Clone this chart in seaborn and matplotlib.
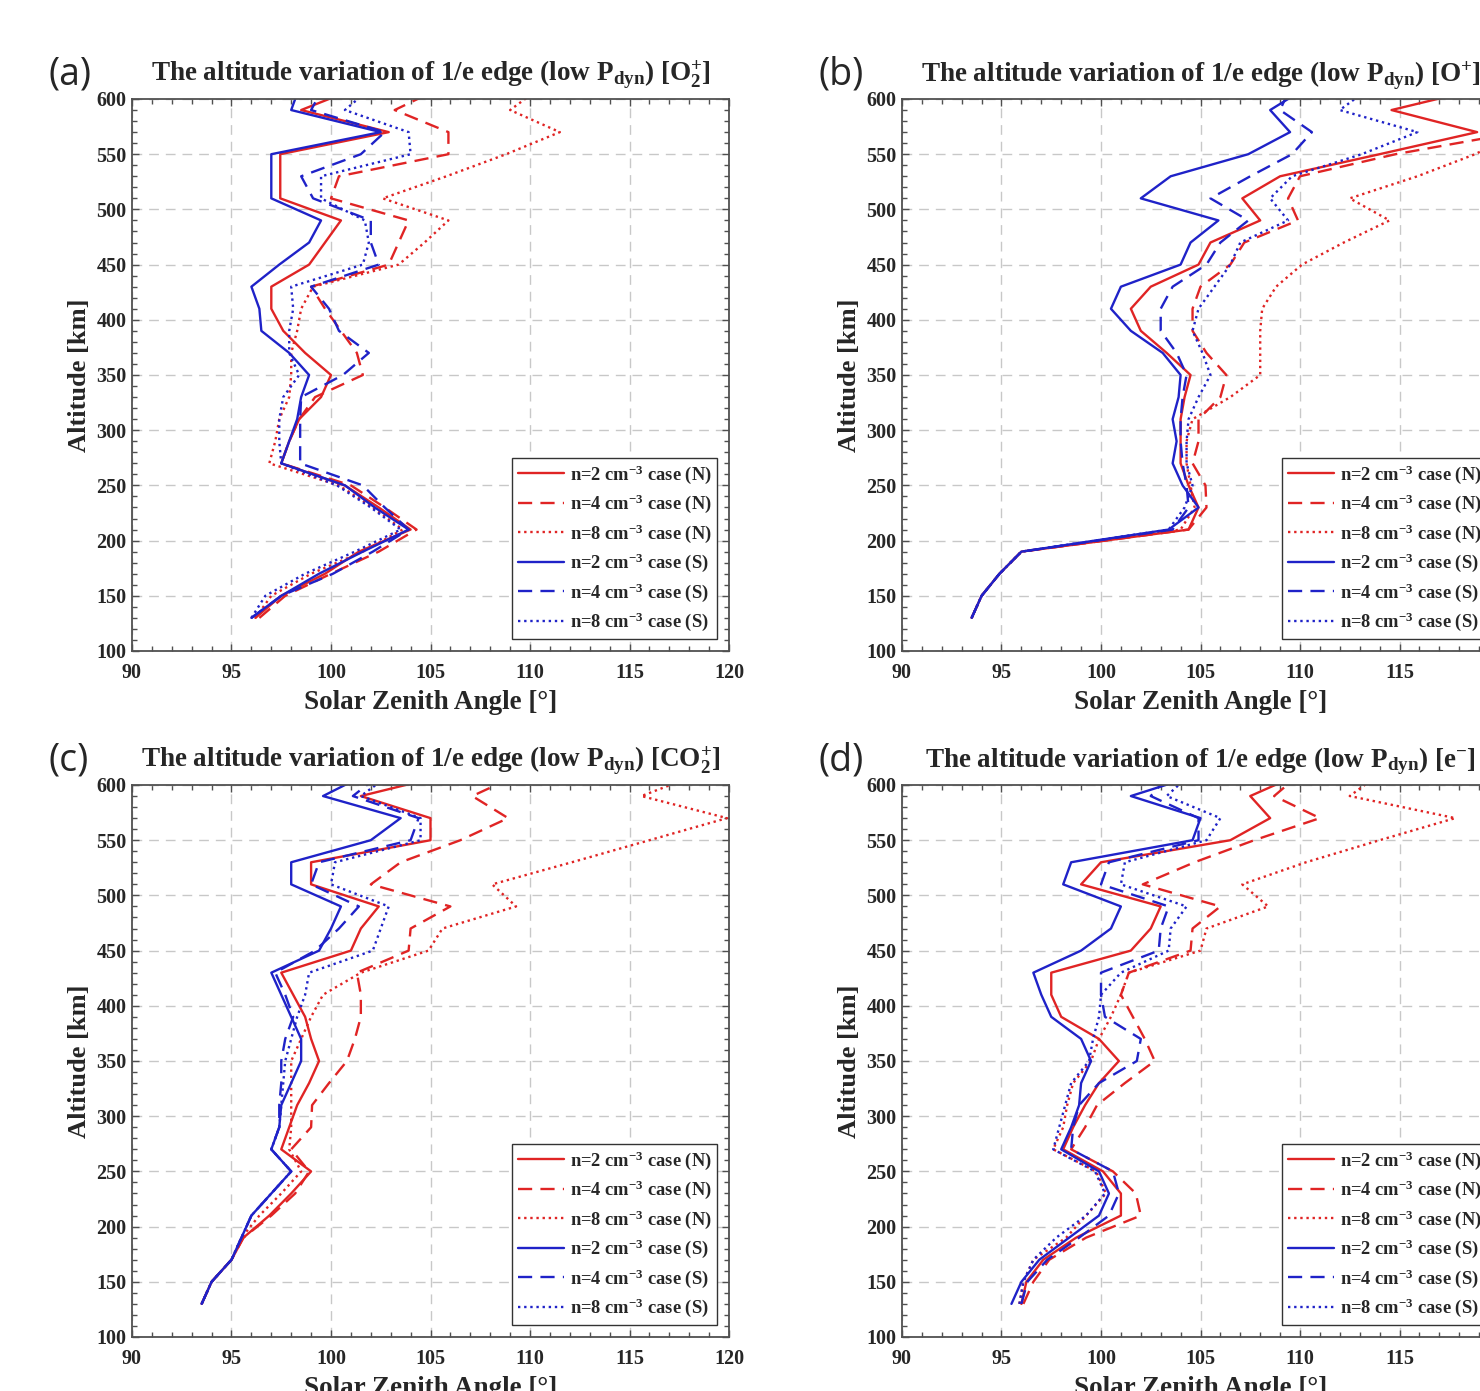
import matplotlib
matplotlib.use("Agg")
import matplotlib.pyplot as plt
from matplotlib.ticker import MultipleLocator
import seaborn as sns

# ---------------- data ----------------
ALT = [130, 150, 170, 190, 210, 230, 250, 270, 290, 310, 330, 350, 370,
       390, 410, 430, 450, 470, 490, 510, 530, 550, 570, 590, 610]

# panel (a) O2+
a_N2 = [96.2, 97.5, 99.7, 101.4, 104.0, 102.4, 100.7, 97.5, 97.9, 98.4, 99.5, 100.0, 98.7,
        97.6, 97.0, 97.0, 98.9, 99.7, 100.5, 97.45, 97.45, 97.45, 102.9, 98.5, 101.3]
a_N4 = [96.4, 97.7, 100.0, 102.4, 104.3, 102.7, 101.0, 97.5, 97.9, 98.4, 99.2, 101.6, 101.3,
        100.5, 99.7, 99.0, 102.9, 103.4, 103.9, 100.0, 100.4, 105.9, 105.9, 103.2, 105.5]
a_N8 = [96.2, 97.0, 99.0, 101.6, 103.6, 102.1, 100.4, 96.9, 97.2, 97.4, 97.9, 98.0, 98.0,
        98.3, 98.5, 99.1, 103.4, 104.7, 105.9, 102.6, 105.8, 108.8, 111.5, 109.0, 110.5]
a_S2 = [96.0, 97.5, 99.4, 101.6, 103.9, 102.2, 100.7, 97.5, 97.9, 98.3, 98.5, 98.9, 97.9,
        96.5, 96.4, 96.0, 97.4, 98.9, 99.5, 97.0, 97.0, 97.0, 102.5, 98.0, 98.4]
a_S4 = [96.0, 97.5, 100.1, 102.1, 103.9, 102.7, 101.6, 98.45, 98.45, 98.45, 98.5, 100.6, 101.9,
        100.4, 99.9, 99.0, 102.4, 102.0, 102.0, 99.1, 98.5, 101.5, 102.7, 99.0, 99.6]
a_S8 = [96.0, 96.7, 98.7, 101.2, 103.5, 102.0, 100.3, 97.5, 97.4, 97.4, 97.6, 98.4, 97.9,
        97.9, 98.1, 98.0, 101.6, 101.9, 101.7, 99.5, 99.5, 104.0, 103.9, 100.7, 102.0]

# panel (b) O+
b_N2 = [93.5, 94.0, 94.9, 96.0, 104.4, 104.9, 104.4, 104.0, 104.0, 104.0, 104.2, 104.5, 103.3,
        102.0, 101.5, 102.5, 104.9, 105.5, 108.0, 107.1, 109.0, 114.0, 118.9, 114.6, 119.2]
b_N4 = [93.5, 94.0, 94.9, 96.0, 104.4, 105.3, 105.25, 104.6, 104.9, 104.9, 106.0, 106.3, 105.3,
        104.6, 104.6, 105.0, 106.5, 107.2, 109.9, 109.4, 110.0, 114.8, 121.0, 122.0, 122.0]
b_N8 = [93.5, 94.0, 94.9, 96.0, 104.0, 104.7, 104.5, 104.3, 104.3, 104.6, 106.5, 108.0, 108.0,
        108.0, 108.1, 108.8, 110.1, 112.2, 114.5, 112.5, 115.9, 118.8, 121.0, 122.0, 122.0]
b_S2 = [93.5, 94.0, 94.9, 96.0, 103.4, 104.9, 104.1, 103.6, 103.8, 103.6, 103.9, 104.0, 103.1,
        101.5, 100.5, 101.0, 104.0, 104.5, 105.9, 102.0, 103.5, 107.4, 109.5, 108.5, 110.3]
b_S4 = [93.5, 94.0, 94.9, 96.0, 103.6, 104.4, 104.3, 104.1, 104.0, 104.0, 104.1, 104.3, 103.8,
        103.0, 103.0, 103.6, 105.3, 106.0, 107.4, 105.5, 107.5, 109.6, 110.6, 109.0, 109.5]
b_S8 = [93.5, 94.0, 94.9, 96.0, 103.4, 104.2, 104.6, 104.3, 104.3, 104.4, 104.9, 105.5, 105.1,
        104.6, 104.9, 105.7, 106.5, 107.0, 109.4, 108.5, 109.6, 113.1, 115.9, 112.0, 113.5]

# panel (c) CO2+
c_N2 = [93.5, 94.0, 95.0, 95.6, 96.9, 98.0, 99.0, 97.5, 97.9, 98.3, 98.9, 99.4, 99.0,
        98.7, 98.1, 97.5, 101.0, 101.5, 102.4, 99.0, 99.0, 105.0, 105.0, 101.5, 106.0]
c_N4 = [93.5, 94.0, 95.0, 95.6, 97.0, 98.2, 98.9, 98.0, 99.0, 99.05, 99.9, 100.8, 101.2,
        101.5, 101.5, 101.3, 103.9, 104.0, 106.0, 102.0, 103.5, 106.5, 108.9, 107.1, 109.5]
c_N8 = [93.5, 94.0, 95.0, 95.5, 96.4, 97.5, 98.5, 97.9, 98.0, 98.0, 98.0, 98.0, 98.5,
        99.0, 99.6, 101.5, 104.9, 105.6, 109.3, 108.1, 112.1, 116.0, 119.9, 115.6, 118.5]
c_S2 = [93.5, 94.0, 95.0, 95.5, 96.0, 97.0, 98.0, 97.0, 97.4, 97.5, 98.0, 98.5, 98.5,
        98.0, 97.5, 97.0, 99.4, 100.0, 100.5, 98.0, 98.0, 102.0, 103.5, 99.6, 101.8]
c_S4 = [93.5, 94.0, 95.0, 95.5, 96.0, 97.0, 98.0, 97.0, 97.4, 97.4, 97.5, 97.5, 97.7,
        98.1, 97.7, 97.2, 99.2, 100.4, 101.4, 99.0, 99.4, 104.0, 104.4, 101.1, 102.5]
c_S8 = [93.5, 94.0, 95.0, 95.5, 96.0, 97.0, 98.0, 97.0, 97.4, 97.5, 97.6, 97.7, 98.0,
        98.3, 98.7, 98.9, 102.1, 102.5, 102.9, 100.0, 100.2, 104.5, 104.5, 101.5, 103.0]

# panel (d) e-
d_N2 = [96.0, 96.25, 97.1, 98.75, 101.0, 101.0, 100.1, 98.1, 98.6, 99.2, 99.9, 100.9, 99.9,
        98.0, 97.5, 97.5, 101.5, 102.5, 103.0, 99.0, 100.0, 106.5, 108.5, 107.5, 110.0]
d_N4 = [96.1, 96.6, 97.4, 99.25, 102.0, 101.75, 100.6, 98.5, 99.2, 99.8, 101.2, 102.7, 102.2,
        101.6, 101.0, 101.4, 104.5, 104.6, 106.0, 102.1, 104.7, 107.7, 111.0, 108.7, 110.0]
d_N8 = [95.9, 96.1, 96.6, 98.25, 99.25, 100.25, 99.75, 97.6, 98.1, 98.3, 98.6, 99.5, 99.9,
        100.5, 101.0, 101.4, 105.0, 105.3, 108.4, 107.1, 110.3, 114.0, 117.8, 112.5, 114.0]
d_S2 = [95.5, 96.0, 96.9, 98.4, 99.9, 100.4, 99.9, 98.0, 98.5, 98.9, 99.0, 99.5, 99.0,
        97.5, 97.0, 96.6, 99.0, 100.5, 101.0, 98.1, 98.5, 104.6, 105.0, 101.5, 105.0]
d_S4 = [96.0, 96.3, 97.3, 98.9, 100.4, 100.9, 100.6, 98.5, 98.6, 98.9, 99.9, 101.8, 102.0,
        100.2, 100.0, 100.0, 102.9, 103.0, 103.4, 100.0, 100.4, 104.9, 104.9, 102.5, 103.5]
d_S8 = [95.9, 96.1, 96.6, 97.75, 99.25, 100.2, 99.7, 97.6, 97.9, 98.2, 98.5, 99.4, 99.6,
        99.9, 100.0, 101.0, 103.4, 103.5, 104.3, 101.0, 101.2, 105.3, 106.0, 103.3, 104.5]

SPECIES = [r"[O$_\mathbf{2}^\mathbf{+}$]", r"[O$^\mathbf{+}$]",
           r"[CO$_\mathbf{2}^\mathbf{+}$]", r"[e$^\mathbf{-}$]"]
PANEL_LABELS = ["(a)", "(b)", "(c)", "(d)"]
SERIES_LABELS = [r"n=2 cm$^{\mathbf{-3}}$ case (N)", r"n=4 cm$^{\mathbf{-3}}$ case (N)",
                 r"n=8 cm$^{\mathbf{-3}}$ case (N)", r"n=2 cm$^{\mathbf{-3}}$ case (S)",
                 r"n=4 cm$^{\mathbf{-3}}$ case (S)", r"n=8 cm$^{\mathbf{-3}}$ case (S)"]
PANELS = [[a_N2, a_N4, a_N8, a_S2, a_S4, a_S8],
          [b_N2, b_N4, b_N8, b_S2, b_S4, b_S8],
          [c_N2, c_N4, c_N8, c_S2, c_S4, c_S8],
          [d_N2, d_N4, d_N8, d_S2, d_S4, d_S8]]

# ---------------- style ----------------
sns.set_theme(style="ticks")
plt.rcParams["font.family"] = ["Liberation Serif", "DejaVu Serif"]
plt.rcParams["font.weight"] = "bold"
plt.rcParams["mathtext.fontset"] = "custom"
plt.rcParams["mathtext.rm"] = "Liberation Serif:bold"
plt.rcParams["mathtext.it"] = "Liberation Serif:italic:bold"
plt.rcParams["mathtext.bf"] = "Liberation Serif:bold"

RED = "#e02424"
BLUE = "#1f22c8"
colors = [RED, RED, RED, BLUE, BLUE, BLUE]
styles = ["-", (0, (6, 3.5)), (0, (1, 1.6)), "-", (0, (6, 3.5)), (0, (1, 1.6))]
GRID_C = "#c8c8c8"
SPINE_C = "#505050"

W, H = 1480, 1391
fig = plt.figure(figsize=(W / 100, H / 100), dpi=100)

ax_px = [(132, 99), (902, 99), (132, 785), (902, 785)]  # left, top (pixels)
AW, AH = 597, 552

for i, (lx, ty) in enumerate(ax_px):
    ax = fig.add_axes([lx / W, 1 - (ty + AH) / H, AW / W, AH / H])
    for j, xs in enumerate(PANELS[i]):
        sns.lineplot(x=xs, y=ALT, ax=ax, sort=False, estimator=None,
                     color=colors[j], linestyle=styles[j], linewidth=1.7,
                     label=SERIES_LABELS[j])
    ax.set_xlim(90, 120)
    ax.set_ylim(100, 600)
    ax.xaxis.set_major_locator(MultipleLocator(5))
    ax.xaxis.set_minor_locator(MultipleLocator(1))
    ax.yaxis.set_major_locator(MultipleLocator(50))
    ax.yaxis.set_minor_locator(MultipleLocator(10))
    ax.grid(True, which="major", color=GRID_C, linestyle=(0, (7, 5)), linewidth=1.0)
    ax.set_axisbelow(True)
    ax.tick_params(which="both", direction="in", top=True, right=True,
                   color=SPINE_C, width=1.0)
    ax.tick_params(which="major", length=5, labelsize=14.5)
    ax.tick_params(axis="x", which="major", pad=9)
    ax.tick_params(axis="y", which="major", pad=4)
    ax.tick_params(which="minor", length=3.5)
    for lab in ax.get_xticklabels() + ax.get_yticklabels():
        lab.set_fontweight("bold")
    for sp in ax.spines.values():
        sp.set_color(SPINE_C)
        sp.set_linewidth(1.3)
    ax.set_xlabel("Solar Zenith Angle [°]", fontsize=19.5, fontweight="bold", labelpad=5)
    ax.set_ylabel("Altitude [km]", fontsize=19, fontweight="bold", labelpad=4)
    ax.set_title(r"The altitude variation of 1/e edge (low P$_\mathbf{dyn}$) " + SPECIES[i],
                 fontsize=19.5, fontweight="bold", pad=13)
    leg = ax.legend(loc="lower right", frameon=True, fancybox=False,
                    framealpha=1, edgecolor="#333333", handlelength=2.5,
                    handletextpad=0.3, labelspacing=0.38, borderpad=0.3,
                    borderaxespad=0.65, prop={"weight": "bold", "size": 13.3})
    leg.get_frame().set_linewidth(1.0)
    fig.text((lx - 84) / W, 1 - (ty - 25) / H, PANEL_LABELS[i], fontsize=27,
             family=["Open Sans", "DejaVu Sans"], fontweight="normal",
             ha="left", va="center")

fig.savefig("out.png", dpi=100)
